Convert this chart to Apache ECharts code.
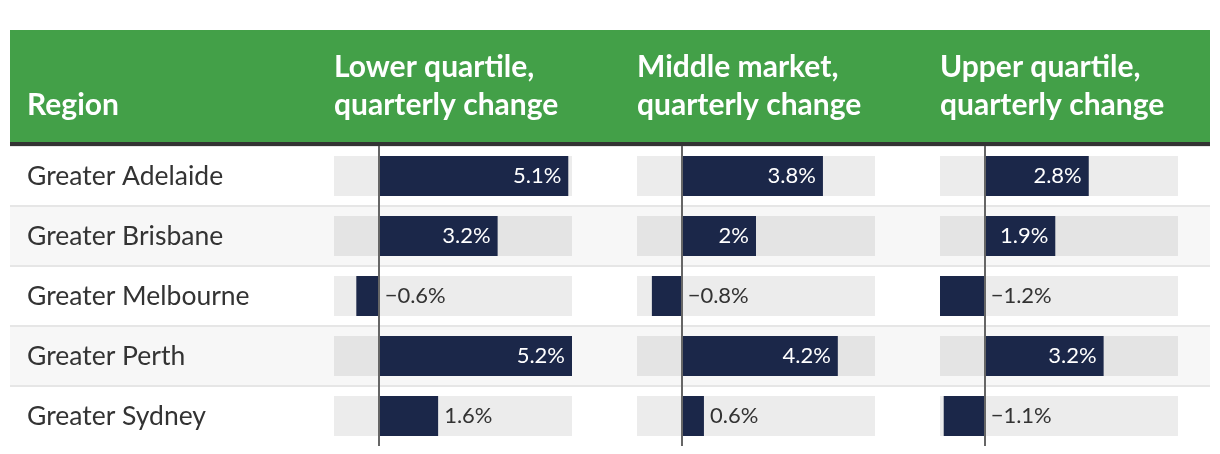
<!DOCTYPE html>
<html>
<head>
<meta charset="utf-8">
<script src="https://cdn.jsdelivr.net/npm/echarts@6/dist/echarts.min.js"></script>
<style>
html,body{margin:0;padding:0;background:#fff;}
#chart{width:1220px;height:454px;}
</style>
</head>
<body>
<div id="chart"></div>
<script>
const regions = ['Greater Adelaide', 'Greater Brisbane', 'Greater Melbourne', 'Greater Perth', 'Greater Sydney'];
const lowerQuartile = [5.1, 3.2, -0.6, 5.2, 1.6];
const middleMarket = [3.8, 2, -0.8, 4.2, 0.6];
const upperQuartile = [2.8, 1.9, -1.2, 3.2, -1.1];
const regionHeader = 'Region';
const columnHeaders = ['Lower quartile,\nquarterly change', 'Middle market,\nquarterly change', 'Upper quartile,\nquarterly change'];
const axisMin = -1.2;
const axisMax = 5.2;

const FONT = 'Lato';
const NAVY = '#1b2749';
const columns = [lowerQuartile, middleMarket, upperQuartile];
const colLeft = [334, 637, 940];
const colWidth = 238;
const gridTop = 146, rowsHeight = 300;

function fmt(v) {
  return (v < 0 ? '\u2212' + Math.abs(v) : String(v)) + '%';
}

const sepColors = regions.map(() => '#e6e6e6').concat(['rgba(0,0,0,0)']);

const grids = [{ left: 10, width: 1200, top: gridTop, height: rowsHeight }];
const xAxes = [{ type: 'value', gridIndex: 0, show: false, min: 0, max: 1 }];
const yAxes = [{
  type: 'category', gridIndex: 0, data: regions, inverse: true,
  axisLine: { show: false }, axisTick: { show: false },
  axisLabel: { inside: true, margin: 17, align: 'left', fontFamily: FONT, fontSize: 26.5, color: '#333' },
  splitArea: { show: true, areaStyle: { color: ['#ffffff', '#f7f7f7'] } },
  splitLine: { show: true, lineStyle: { color: sepColors, width: 2 } }
}];
const series = [];

columns.forEach((vals, i) => {
  const g = i + 1;
  grids.push({ left: colLeft[i], width: colWidth, top: gridTop, height: rowsHeight });
  xAxes.push({ type: 'value', gridIndex: g, min: axisMin, max: axisMax, show: false });
  yAxes.push({ type: 'category', gridIndex: g, data: regions, inverse: true, show: false });
  series.push({
    type: 'bar',
    xAxisIndex: g, yAxisIndex: g,
    barWidth: 40,
    showBackground: true,
    backgroundStyle: { color: 'rgba(0,0,0,0.075)' },
    itemStyle: { color: NAVY },
    data: vals.map(v => {
      const inside = v >= 1.8;
      return {
        value: v,
        label: {
          show: true,
          position: inside ? 'insideRight' : 'right',
          distance: inside ? 7 : 6,
          color: inside ? '#ffffff' : '#333333',
          fontFamily: FONT,
          fontSize: 22,
          formatter: p => fmt(p.value)
        }
      };
    }),
    markLine: {
      silent: true,
      symbol: ['none', 'none'],
      label: { show: false },
      lineStyle: { color: '#666', width: 2, type: 'solid' },
      data: [{ xAxis: 0 }],
      z: 10
    }
  });
});

const headFont = 'bold 30px ' + FONT;
const graphics = [
  { type: 'rect', shape: { x: 10, y: 30, width: 1200, height: 112 }, style: { fill: '#43a048' }, z: 1 },
  { type: 'rect', shape: { x: 10, y: 142, width: 1200, height: 4 }, style: { fill: '#333333' }, z: 1 },
  { type: 'text', x: 27, y: 105, z: 2, style: { text: regionHeader, fill: '#fff', font: headFont, verticalAlign: 'middle' } }
];
columnHeaders.forEach((h, i) => {
  h.split('\n').forEach((line, j) => {
    graphics.push({ type: 'text', x: colLeft[i], y: 67 + j * 38, z: 2, style: { text: line, fill: '#fff', font: headFont, verticalAlign: 'middle' } });
  });
});

const chart = echarts.init(document.getElementById('chart'), null, { renderer: 'canvas' });
chart.setOption({
  animation: false,
  grid: grids,
  xAxis: xAxes,
  yAxis: yAxes,
  series: series,
  graphic: graphics
});
</script>
</body>
</html>
